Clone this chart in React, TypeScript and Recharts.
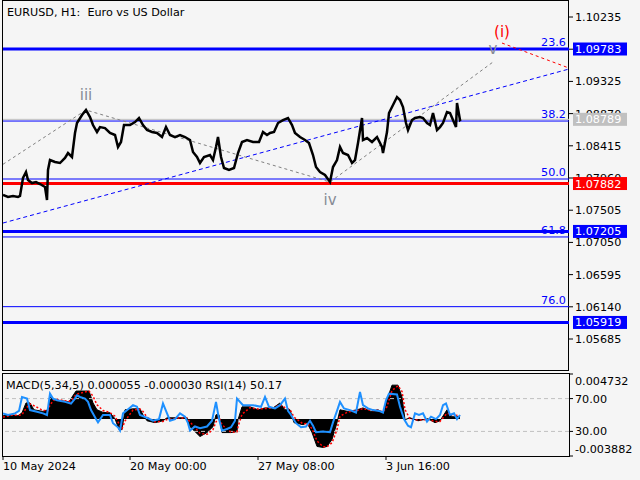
import React from 'react';
import { ComposedChart, Line, Area, XAxis, YAxis, ReferenceLine, ReferenceDot } from 'recharts';

// ---------- price (H1 closes, bar index from left edge) ----------
const priceBars = [
  0, 5, 10, 15, 17, 20, 23, 25, 29, 33,
  37, 42, 44, 45, 47, 52, 57, 62, 65, 69,
  72, 74, 79, 83, 87, 90, 94, 97, 102, 107,
  112, 115, 118, 121, 127, 132, 136, 140, 144, 149,
  154, 159, 163, 167, 172, 177, 182, 187, 190, 194,
  197, 201, 207, 210, 213, 215, 218, 221, 226, 231,
  235, 239, 244, 250, 256, 260, 264, 267, 271, 275,
  280, 285, 289, 292, 297, 302, 306, 310, 313, 317,
  322, 327, 330, 334, 337, 340, 345, 349, 352, 355,
  359, 360, 364, 369, 374, 379, 380, 384, 386, 389,
  394, 397, 400, 403, 405, 409, 412, 417, 420, 424,
  427, 430, 434, 437, 440, 444, 447, 450, 453, 454,
  457, 458,
];
const priceValues = [
  1.0772, 1.07692, 1.07706, 1.07692, 1.07706, 1.0796, 1.08045, 1.07932, 1.07889, 1.07903,
  1.07875, 1.07833, 1.07649, 1.08073, 1.08214, 1.08186, 1.08172, 1.08243, 1.08313, 1.08257,
  1.08596, 1.08737, 1.0885, 1.08921, 1.08822, 1.08709, 1.0861, 1.0868, 1.08666, 1.08596,
  1.08568, 1.08398, 1.08469, 1.08709, 1.08709, 1.08751, 1.08808, 1.08709, 1.08638, 1.0861,
  1.08596, 1.08539, 1.0868, 1.08568, 1.08539, 1.08568, 1.08539, 1.08497, 1.08327, 1.08257,
  1.08172, 1.08257, 1.08285, 1.08214, 1.08398, 1.08539, 1.08257, 1.08101, 1.08073, 1.08101,
  1.08313, 1.08469, 1.08497, 1.08469, 1.08469, 1.0861, 1.08568, 1.08596, 1.0861, 1.08737,
  1.08779, 1.08808, 1.08709, 1.08596, 1.08539, 1.08497, 1.08455, 1.08285, 1.08115, 1.08045,
  1.08002, 1.07903, 1.08115, 1.08214, 1.08398, 1.08313, 1.08285, 1.08172, 1.08214, 1.08455,
  1.08808, 1.08497, 1.08525, 1.08469, 1.08539, 1.08398, 1.08313, 1.0861, 1.08878, 1.08963,
  1.09104, 1.09062, 1.08963, 1.08737, 1.08638, 1.08779, 1.08808, 1.08822, 1.08808, 1.08737,
  1.08709, 1.08878, 1.08638, 1.0868, 1.08737, 1.08892, 1.08878, 1.08779, 1.0868, 1.0902,
  1.08779, 1.08789,
];

// ---------- Elliott wave markup ----------
const waveBars = [0, 83, 327, 490];
const wavePrices = [1.08154, 1.08921, 1.07903, 1.09599];
const waveNames = ['', 'iii', 'iv', 'v'];
const projBars = [499, 566];
const projPrices = [1.09867, 1.09514];
const projName = '(i)';
const trendBars = [0, 566];
const trendPrices = [1.07324, 1.095];

// ---------- levels ----------
const fibRatios = ['23.6', '38.2', '50.0', '61.8', '76.0'];
const fibPrices = [1.09778, 1.08765, 1.07946, 1.07127, 1.06142];
const levelPrices = [1.09783, 1.07882, 1.07205, 1.05919];
const currentPrice = 1.08789;
const priceTicks = [1.10235, 1.0978, 1.09325, 1.0887, 1.08415, 1.0796, 1.07505, 1.0705, 1.06595, 1.0614, 1.05685];
const markedPrices = [1.09783, 1.08789, 1.07882, 1.07205, 1.05919];

// ---------- time axis ----------
const dateTicks = [0, 127, 255, 383];
const dateLabels = ['10 May 2024', '20 May 00:00', '27 May 08:00', '3 Jun 16:00'];

// ---------- MACD(5,34,5) ----------
const macdBars = [
  0, 8, 15, 19, 23, 27, 31, 40, 45, 47,
  52, 60, 66, 69, 73, 86, 90, 94, 100, 107,
  112, 116, 119, 122, 130, 137, 140, 144, 152, 160,
  164, 175, 184, 187, 197, 204, 210, 213, 216, 219,
  228, 234, 235, 239, 247, 255, 262, 270, 277, 282,
  287, 291, 300, 304, 309, 314, 320, 324, 329, 334,
  337, 345, 354, 360, 368, 375, 380, 384, 389, 395,
  399, 402, 407, 415, 425, 432, 437, 444, 449, 457,
];
const macdValues = [
  0.00034, 0.00045, 0.00034, 0.00065, 0.00169, 0.00169, 0.00097, 0.0008, 0.00097, 0.00231,
  0.002, 0.0019, 0.0018, 0.00231, 0.00294, 0.00294, 0.00169, 0.00097, 0.0007, 0.00065,
  0.00003, -0.00111, -0.00111, 0.00097, 0.00107, 0.00107, 0.00045, -0.00018, -0.00038, -0.00018,
  0.00013, 0.00013, 0.00013, -0.0008, -0.00184, -0.00142, -0.0008, 0.00045, 0.00045, -0.00142,
  -0.00142, -0.00132, -0.00007, 0.00128, 0.00128, 0.00097, 0.00117, 0.00117, 0.00169, 0.00097,
  0.00097, -0.00038, -0.00059, -0.00038, -0.00142, -0.00288, -0.00298, -0.00288, -0.00215, -0.00038,
  0.00097, 0.0008, 0.00097, 0.00117, 0.0008, 0.00097, 0.00065, 0.002, 0.00356, 0.00356,
  0.00231, -0.00007, 0.00013, -0.00018, 0.00003, -0.00038, -0.00018, 0.00097, 0.00024, 0.00024,
];
const signalValues = [
  0.0002, 0.0004, 0.0004, 0.00045, 0.0011, 0.0016, 0.0014, 0.0009, 0.00088, 0.0015,
  0.0021, 0.00195, 0.00185, 0.002, 0.0026, 0.00294, 0.0024, 0.0015, 0.0009, 0.00068,
  0.0003, -0.0005, -0.001, -0.0002, 0.00095, 0.00105, 0.0008, 0.0002, -0.0003, -0.00025,
  -0.00005, 0.0001, 0.00012, -0.0003, -0.0015, -0.0016, -0.0011, -0.0003, 0.0002, -0.0006,
  -0.0014, -0.00135, -0.0008, 0.0005, 0.0012, 0.00105, 0.0011, 0.00115, 0.0015, 0.0012,
  0.001, 0.0002, -0.0005, -0.00045, -0.001, -0.0023, -0.0029, -0.00292, -0.0025, -0.0011,
  0.0003, 0.00075, 0.0009, 0.0011, 0.0009, 0.00092, 0.00075, 0.0013, 0.003, 0.0035,
  0.0029, 0.001, 0, -0.0001, -0.00005, -0.00025, -0.00025, 0.0006, 0.0005, 0.0003,
];
const macdMax = 0.004732;
const macdMin = -0.003882;

// ---------- RSI(14) ----------
const rsiBars = [
  0, 5, 12, 16, 19, 24, 27, 34, 40, 44,
  47, 50, 54, 62, 68, 72, 74, 77, 82, 85,
  88, 93, 95, 100, 107, 110, 115, 117, 120, 126,
  130, 134, 137, 145, 150, 156, 160, 163, 167, 172,
  177, 182, 185, 187, 192, 197, 204, 209, 213, 216,
  219, 224, 228, 232, 234, 240, 250, 258, 262, 266,
  272, 277, 282, 285, 288, 293, 298, 303, 307, 310,
  313, 320, 327, 330, 334, 337, 341, 347, 353, 357,
  360, 365, 370, 376, 380, 383, 386, 394, 397, 401,
  405, 408, 412, 416, 420, 424, 428, 433, 437, 440,
  443, 447, 451, 454, 457,
];
const rsiValues = [
  52, 50, 52, 55, 72, 70, 56, 54, 52, 50,
  76, 70, 68, 66, 64, 70, 74, 72, 70, 66,
  56, 45, 41, 50, 50, 40, 35, 31, 52, 58,
  62, 60, 50, 46, 43, 45, 64, 55, 43, 45,
  52, 48, 40, 31, 36, 34, 36, 43, 66, 45,
  31, 33, 35, 43, 70, 62, 62, 60, 72, 60,
  58, 62, 70, 55, 50, 40, 35, 36, 43, 37,
  29, 30, 29, 41, 55, 66, 58, 56, 53, 78,
  62, 58, 56, 55, 53, 68, 76, 75, 60, 45,
  37, 35, 52, 50, 52, 42, 48, 45, 50, 62,
  64, 50, 52, 45, 50,
];
const rsiLevels = [70, 30];

// ---------- styles ----------
const FONT = 'DejaVu Sans';
const FS = 11.2;
const BG = '#f5f5f5';
const BLUE = '#0000ff';
const RED = '#ff0000';
const SILVER = '#c0c0c0';
const WAVE_GRAY = '#878c96';
const LEVEL_COLORS = [BLUE, RED, BLUE, BLUE];
const MARK_COLORS = [BLUE, SILVER, RED, BLUE, BLUE];
const X_DOMAIN: [number, number] = [0, 566];
const P_DOMAIN: [number, number] = [1.05233, 1.10433];

const priceData = priceBars.map((x, i) => ({ x, y: priceValues[i] }));
const waveData = waveBars.map((x, i) => ({ x, y: wavePrices[i] }));
const projData = projBars.map((x, i) => ({ x, y: projPrices[i] }));
const trendData = trendBars.map((x, i) => ({ x, y: trendPrices[i] }));
const macdData = macdBars.map((x, i) => ({ x, m: macdValues[i], s: signalValues[i] }));
const rsiData = rsiBars.map((x, i) => ({ x, r: rsiValues[i] }));

const MarkTick = (props: any) => {
  const { x, y, payload } = props;
  const idx = markedPrices.indexOf(payload.value);
  const color = MARK_COLORS[idx] || BLUE;
  return (
    <g>
      <rect x={x - 3} y={y - 6.5} width={54} height={13} fill={color} />
      <text x={x - 1} y={y} dy="0.36em" fill="#ffffff" fontSize={FS} fontFamily={FONT}>
        {payload.value.toFixed(5)}
      </text>
    </g>
  );
};

const MacdTick = (props: any) => {
  const { x, y, payload } = props;
  const v = payload.value;
  const shift = v > 0 ? 7 : -7;
  return (
    <text x={x} y={y + shift} dy="0.36em" fill="#000" fontSize={FS} fontFamily={FONT} textAnchor="start">
      {v.toFixed(6)}
    </text>
  );
};

export default function App() {
  const tickStyle = { fill: '#000', fontSize: FS, fontFamily: FONT };
  return (
    <div style={{ position: 'absolute', left: 0, top: 0, width: 640, height: 480, background: BG, overflow: 'hidden', fontFamily: FONT }}>
      {/* panel frames */}
      <div style={{ position: 'absolute', left: 2, top: 0, width: 567, height: 371, border: '1px solid #000', boxSizing: 'border-box' }} />
      <div style={{ position: 'absolute', left: 2, top: 373, width: 568, height: 84, border: '1px solid #000', boxSizing: 'border-box' }} />

      <div style={{ position: 'absolute', left: 0, top: 0 }}>
        <ComposedChart width={640} height={372} margin={{ top: 3, right: 0, bottom: 1, left: 3 }}>
          <XAxis type="number" dataKey="x" domain={X_DOMAIN} allowDataOverflow hide />
          <YAxis
            yAxisId="a_price"
            orientation="right"
            width={1}
            type="number"
            domain={P_DOMAIN}
            allowDataOverflow
            ticks={priceTicks}
            interval={0}
            axisLine={false}
            tickLine={{ stroke: '#000' }}
            tickSize={4}
            tickMargin={2}
            tick={tickStyle}
            tickFormatter={(v: number) => v.toFixed(5)}
          />
          <YAxis
            yAxisId="b_marks"
            orientation="right"
            width={70}
            type="number"
            domain={P_DOMAIN}
            allowDataOverflow
            ticks={markedPrices}
            interval={0}
            axisLine={false}
            tickLine={false}
            tickSize={4}
            tickMargin={2}
            tick={<MarkTick />}
          />
          {fibPrices.map((p, i) => (
            <ReferenceLine
              key={'f' + i}
              yAxisId="a_price"
              y={p}
              stroke={BLUE}
              strokeWidth={1}
              label={{ value: fibRatios[i], position: 'insideBottomRight', offset: 3, fill: BLUE, fontSize: FS, fontFamily: FONT }}
            />
          ))}
          <ReferenceLine yAxisId="a_price" y={currentPrice} stroke={SILVER} strokeWidth={1} />
          {levelPrices.map((p, i) => (
            <ReferenceLine key={'l' + i} yAxisId="a_price" y={p} stroke={LEVEL_COLORS[i]} strokeWidth={3} />
          ))}
          <Line yAxisId="a_price" data={trendData} dataKey="y" stroke={BLUE} strokeWidth={1} strokeDasharray="4 3" dot={false} isAnimationActive={false} />
          <Line yAxisId="a_price" data={waveData} dataKey="y" stroke="#808080" strokeWidth={1} strokeDasharray="3 3" dot={false} isAnimationActive={false} />
          <Line yAxisId="a_price" data={projData} dataKey="y" stroke={RED} strokeWidth={1} strokeDasharray="3 3" dot={false} isAnimationActive={false} />
          <Line yAxisId="a_price" data={priceData} dataKey="y" stroke="#000" strokeWidth={2.5} dot={false} isAnimationActive={false} />
          <ReferenceDot yAxisId="a_price" x={waveBars[1]} y={wavePrices[1]} r={0} stroke="none"
            label={{ value: waveNames[1], position: 'top', offset: 10, fill: WAVE_GRAY, fontSize: 15, fontFamily: FONT }} />
          <ReferenceDot yAxisId="a_price" x={waveBars[2]} y={wavePrices[2]} r={0} stroke="none"
            label={{ value: waveNames[2], position: 'bottom', offset: 12, fill: WAVE_GRAY, fontSize: 15, fontFamily: FONT }} />
          <ReferenceDot yAxisId="a_price" x={waveBars[3]} y={wavePrices[3]} r={0} stroke="none"
            label={{ value: waveNames[3], position: 'top', offset: 8, fill: WAVE_GRAY, fontSize: 15, fontFamily: FONT }} />
          <ReferenceDot yAxisId="a_price" x={projBars[0]} y={projPrices[0]} r={0} stroke="none"
            label={{ value: projName, position: 'top', offset: 6, fill: RED, fontSize: 15, fontFamily: FONT }} />
        </ComposedChart>
      </div>

      <div style={{ position: 'absolute', left: 7, top: 6, fontSize: FS, color: '#000', whiteSpace: 'pre', lineHeight: '13px' }}>
        {'EURUSD, H1:  Euro vs US Dollar'}
      </div>

      <div style={{ position: 'absolute', left: 0, top: 372 }}>
        <ComposedChart width={640} height={108} margin={{ top: 2, right: 0, bottom: 0, left: 3 }}>
          <XAxis
            type="number"
            dataKey="x"
            domain={X_DOMAIN}
            allowDataOverflow
            ticks={dateTicks}
            interval={0}
            height={24}
            axisLine={false}
            tickLine={{ stroke: '#000' }}
            tickSize={4}
            tickMargin={2}
            tick={{ ...tickStyle, textAnchor: 'start' }}
            tickFormatter={(v: number) => dateLabels[dateTicks.indexOf(v)]}
          />
          <YAxis
            yAxisId="macd"
            orientation="right"
            width={1}
            type="number"
            domain={[macdMin, macdMax]}
            allowDataOverflow
            ticks={[macdMax, macdMin]}
            interval={0}
            axisLine={false}
            tickLine={{ stroke: '#000' }}
            tickSize={4}
            tickMargin={2}
            tick={<MacdTick />}
          />
          <YAxis
            yAxisId="rsi"
            orientation="right"
            width={70}
            type="number"
            domain={[0, 100]}
            allowDataOverflow
            ticks={rsiLevels}
            interval={0}
            axisLine={false}
            tickLine={{ stroke: '#000' }}
            tickSize={3}
            tickMargin={2}
            tick={tickStyle}
            tickFormatter={(v: number) => v.toFixed(2)}
          />
          {rsiLevels.map((v) => (
            <ReferenceLine key={v} yAxisId="rsi" y={v} stroke={SILVER} strokeDasharray="4 3" />
          ))}
          <Area yAxisId="macd" data={macdData} dataKey="m" type="linear" baseValue={0} fill="#000" fillOpacity={1} stroke="#000" strokeWidth={1} dot={false} isAnimationActive={false} />
          <Line yAxisId="macd" data={macdData} dataKey="s" stroke={RED} strokeWidth={1.5} strokeDasharray="2 2" dot={false} isAnimationActive={false} />
          <Line yAxisId="rsi" data={rsiData} dataKey="r" stroke="#1e90ff" strokeWidth={2} dot={false} isAnimationActive={false} />
        </ComposedChart>
      </div>

      <div style={{ position: 'absolute', left: 6, top: 379, fontSize: FS, color: '#000', whiteSpace: 'pre', lineHeight: '13px' }}>
        {'MACD(5,34,5) 0.000055 -0.000030 RSI(14) 50.17'}
      </div>
    </div>
  );
}
